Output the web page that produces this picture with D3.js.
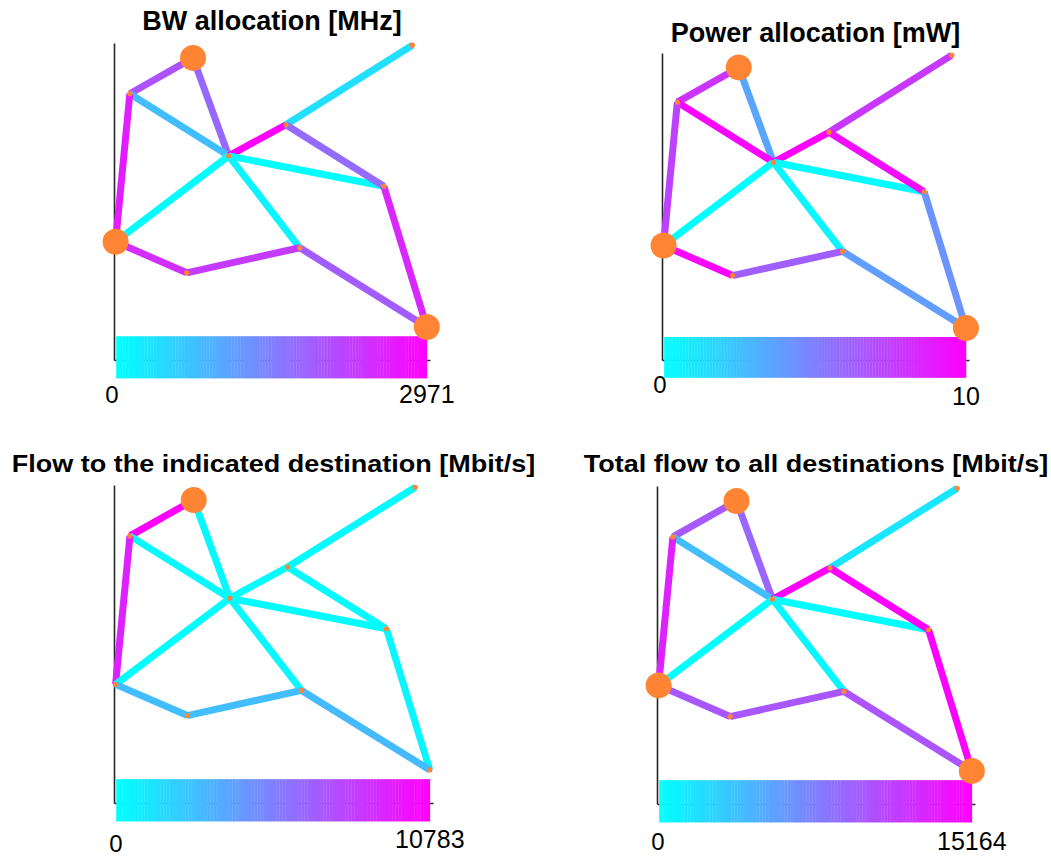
<!DOCTYPE html>
<html>
<head>
<meta charset="utf-8">
<script src="https://cdn.jsdelivr.net/npm/d3@7"></script>
<style>
  body { margin: 0; background: #fff; }
  svg { display: block; font-family: "Liberation Sans", Arial, sans-serif; }
</style>
</head>
<body>
<div id="chart"></div>
<script>
// network nodes (normalised map coordinates)
var nodeNames = ["A", "B", "C", "D", "E", "F", "G", "H", "I", "J"];
var nodeX = [0.250, 0.050, 0.363, 0.544, 0.944, 0.854, 0.005, 0.230, 0.588, 0.990];
var nodeY = [0.953, 0.840, 0.644, 0.742, 0.993, 0.548, 0.373, 0.275, 0.354, 0.104];

// links
var edgeFrom = ["A", "A", "B", "B", "C", "D", "C", "C", "C", "D", "F", "G", "H", "I"];
var edgeTo   = ["B", "C", "C", "G", "D", "E", "G", "F", "I", "F", "J", "H", "I", "J"];

// per-link values for each panel
var bwValues        = [2020, 1760, 760, 2630, 2971, 370, 40, 0, 120, 1720, 2520, 2440, 2280, 1900];
var powerValues     = [8.0, 3.5, 9.8, 7.4, 10, 7.8, 0.0, 0.1, 0.3, 9.5, 4.2, 9.8, 6.3, 3.8];
var flowDestValues  = [10783, 200, 220, 9380, 0, 210, 0, 100, 300, 200, 420, 2800, 2800, 2900];
var flowTotalValues = [9850, 9100, 3950, 13200, 15164, 1500, 0, 0, 450, 15164, 15000, 10000, 10000, 10150];

var titles = ["BW allocation [MHz]", "Power allocation [mW]",
              "Flow to the indicated destination [Mbit/s]", "Total flow to all destinations [Mbit/s]"];
var maxValues = [2971, 10, 10783, 15164];
var maxLabels = ["2971", "10", "10783", "15164"];
var bigNodes = [["A", "G", "J"], ["A", "G", "J"], ["A"], ["A", "G", "J"]];

var panelValues = [bwValues, powerValues, flowDestValues, flowTotalValues];

// layout of the four axes (pixels)
var frames = [
    {x0: 114, x1: 430, yt: 43,  yb: 360, titleY: 30,  sy: 1,    zeroX: 112, zeroY: 403, maxY: 403},
    {x0: 662, x1: 969, yt: 53,  yb: 360, titleY: 42,  sy: 1,    zeroX: 660, zeroY: 393, maxY: 405},
    {x0: 114, x1: 433, yt: 485, yb: 803, titleY: 472, sy: 0.87, zeroX: 116, zeroY: 852, maxY: 848},
    {x0: 657, x1: 975, yt: 486, yb: 804, titleY: 472, sy: 0.87, zeroX: 658, zeroY: 850, maxY: 850}
];

var width = 1051, height = 857;
var nStrips = 100;

var svg = d3.select("#chart").append("svg")
        .attr("width", width)
        .attr("height", height);

frames.forEach(function(f, p) {
    var x = d3.scaleLinear().domain([0, 1]).range([f.x0, f.x1]);
    var y = d3.scaleLinear().domain([0, 1]).range([f.yb, f.yt]);
    var color = d3.scaleLinear().domain([0, maxValues[p]]).range(["#00ffff", "#ff00ff"]);
    var g = svg.append("g");

    // axes, no ticks
    g.append("g")
            .attr("transform", "translate(" + f.x0 + ",0)")
            .call(d3.axisLeft(y).tickValues([]).tickSizeOuter(0));
    g.append("g")
            .attr("transform", "translate(0," + f.yb + ")")
            .call(d3.axisBottom(x).tickValues([]).tickSizeOuter(0));
    g.selectAll(".domain").attr("stroke", "#262626").attr("stroke-width", 1.6);

    // colour bar made of strips
    var cb0 = 0.007, cb1 = 0.99;
    var step = (cb1 - cb0) / nStrips;
    var strips = d3.range(nStrips);
    g.selectAll("rect.strip").data(strips).enter().append("rect")
            .attr("class", "strip")
            .attr("x", function(i) { return x(cb0 + i * step); })
            .attr("width", x(step) - x(0) + 0.3)
            .attr("y", y(0.075))
            .attr("height", y(-0.058) - y(0.075))
            .attr("fill", function(i) { return color(i / (nStrips - 1) * maxValues[p]); });

    // links
    var vals = panelValues[p];
    g.selectAll("line.edge").data(edgeFrom).enter().append("line")
            .attr("class", "edge")
            .attr("x1", function(d) { return x(nodeX[nodeNames.indexOf(d)]); })
            .attr("y1", function(d) { return y(nodeY[nodeNames.indexOf(d)]); })
            .attr("x2", function(d, i) { return x(nodeX[nodeNames.indexOf(edgeTo[i])]); })
            .attr("y2", function(d, i) { return y(nodeY[nodeNames.indexOf(edgeTo[i])]); })
            .attr("stroke", function(d, i) { return color(vals[i]); })
            .attr("stroke-width", 7);

    // nodes
    g.selectAll("circle.node").data(nodeNames).enter().append("circle")
            .attr("class", "node")
            .attr("cx", function(d, i) { return x(nodeX[i]); })
            .attr("cy", function(d, i) { return y(nodeY[i]); })
            .attr("r", function(d) { return bigNodes[p].indexOf(d) >= 0 ? 13 : 2.6; })
            .attr("fill", "#ff8534");

    // title
    g.append("text")
            .attr("transform", "translate(" + ((f.x0 + f.x1) / 2) + "," + f.titleY + ") scale(1," + f.sy + ")")
            .attr("text-anchor", "middle")
            .attr("font-weight", "bold")
            .attr("font-size", 27)
            .text(titles[p]);

    // colour bar end labels
    g.append("text")
            .attr("x", f.zeroX)
            .attr("y", f.zeroY)
            .attr("text-anchor", "middle")
            .attr("font-size", 24)
            .text("0");
    g.append("text")
            .attr("x", x(cb1))
            .attr("y", f.maxY)
            .attr("text-anchor", "middle")
            .attr("font-size", 25)
            .text(maxLabels[p]);
});
</script>
</body>
</html>
